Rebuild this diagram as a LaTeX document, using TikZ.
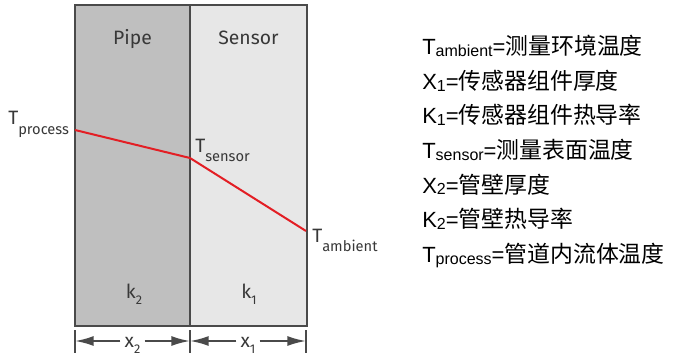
\documentclass[tikz,border=0pt]{standalone}
\usepackage{fontspec}
\setmainfont{Liberation Sans}
\newfontfamily\diagfont{Fira Sans}
\newfontfamily\cjk[Scale=1.04]{Noto Sans CJK SC}
\usetikzlibrary{arrows.meta}
\definecolor{pipegray}{HTML}{BFBFBF}
\definecolor{sensorgray}{HTML}{E7E7E7}
\definecolor{wallgray}{HTML}{4A4A4A}
\definecolor{labelgray}{HTML}{383838}
\definecolor{tempred}{HTML}{E31E24}
% T with a big, low subscript (diagram labels)
\newcommand{\Tlab}[1]{T\raisebox{-7pt}{\fontsize{11}{11}\selectfont #1}}
% k and x with a small, low index
\newcommand{\klab}[2]{#1\raisebox{-5pt}{\fontsize{9.5}{9.5}\selectfont #2}}
% subscript in the legend
\newcommand{\legsub}[1]{\raisebox{-1.5pt}{\fontsize{12}{12}\selectfont #1}}

\begin{document}
\begin{tikzpicture}[x=0.75pt,y=-0.75pt,
    wall/.style={draw=wallgray, line width=1.5pt},
    lab/.style={font=\diagfont\fontsize{14.5}{14.5}\selectfont, text=labelgray, inner sep=0pt},
    dimlab/.style={lab, fill=white, inner xsep=3pt, inner ysep=0pt},
    dimarrow/.style={draw=wallgray, line width=1.5pt, -{Latex[length=14pt,width=7.5pt]}},
    dimtick/.style={draw=wallgray, line width=1pt},
    legend/.style={font=\fontsize{16.5}{16.5}\selectfont, inner sep=0pt, anchor=base west}]
\useasboundingbox (0,0) rectangle (674,356);
% the two layers
\coordinate (tl) at (75,5);
\coordinate (tm) at (190,5);
\coordinate (tr) at (307,5);
\coordinate (bl) at (75,326);
\coordinate (bm) at (190,326);
\coordinate (br) at (307,326);
\fill[pipegray] (tl) rectangle (bm);
\fill[sensorgray] (tm) rectangle (br);
\draw[wall] (tl) rectangle (br);
\draw[wall] (tm) -- (bm);
\node[lab, anchor=base] (pipe) at (132.5,45) {Pipe};
\node[lab, anchor=base] (sensor) at (248.5,45) {Sensor};
\node[lab, anchor=base] (k2) at (134,298) {\klab{k}{2}};
\node[lab, anchor=base] (k1) at (249,298) {\klab{k}{1}};
% temperature profile
\coordinate (pin) at (75,130);
\coordinate (psen) at (190,158);
\coordinate (pamb) at (306,231);
\draw[tempred, line width=1.5pt] (pin) -- (psen) -- (pamb);
\node[lab, anchor=base west] (tproc) at (8,125) {\Tlab{process}};
\node[lab, anchor=base west] (tsen) at (195,152) {\Tlab{sensor}};
\node[lab, anchor=base west] (tamb) at (312,242) {\Tlab{ambient}};
% thickness dimensions
\coordinate (dl) at (75,341);
\coordinate (dm) at (190,341);
\coordinate (dr) at (306,341);
\draw[dimtick] (75,330) -- (75,353);
\draw[dimtick] (190,330) -- (190,353);
\draw[dimtick] (306,330) -- (306,353);
\node[dimlab, anchor=base] (x2) at (132.5,347) {\klab{x}{2}};
\node[dimlab, anchor=base] (x1) at (248,347) {\klab{x}{1}};
\draw[dimarrow] (x2.west |- dl) -- (dl);
\draw[dimarrow] (x2.east |- dm) -- (dm);
\draw[dimarrow] (x1.west |- dm) -- (dm);
\draw[dimarrow] (x1.east |- dr) -- (dr);
% legend
\foreach \lhs/\rhs [count=\i] in {T\legsub{ambient}/测量环境温度, X\legsub{1}/传感器组件厚度,
    K\legsub{1}/传感器组件热导率, T\legsub{sensor}/测量表面温度, X\legsub{2}/管壁厚度,
    K\legsub{2}/管壁热导率, T\legsub{process}/管道内流体温度}
  \node[legend] (leg\i) at (422,20.5+34.5*\i) {\lhs={\cjk\rhs}};
\end{tikzpicture}
\end{document}
